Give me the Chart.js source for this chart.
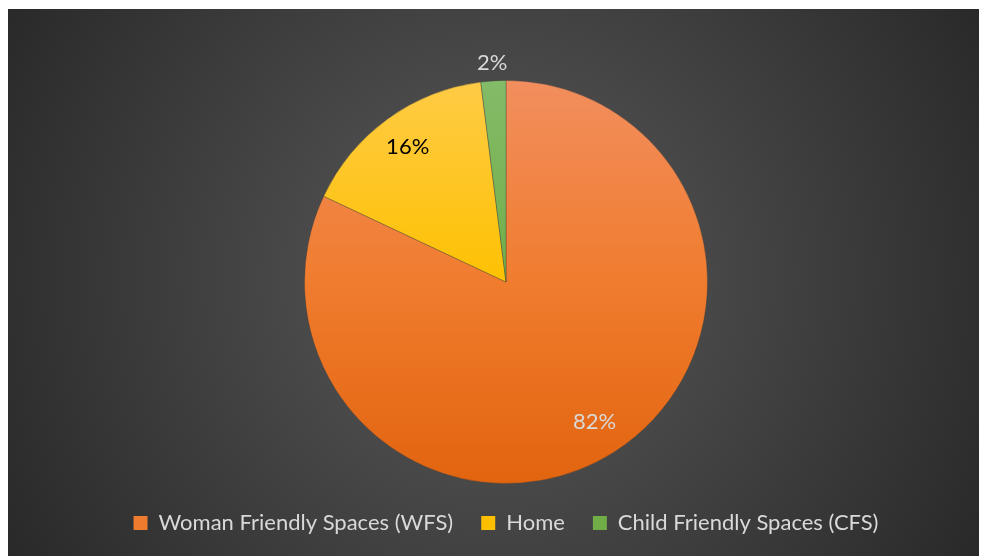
<!DOCTYPE html>
<html lang="en">
<head>
  <meta charset="UTF-8" />
  <title>Where services were received</title>
  <style>
    * {
      box-sizing: border-box;
    }
    body {
      margin: 0;
      background: #fff;
      width: 981px;
      height: 556px;
      overflow: hidden;
      position: relative;
    }
    .chart-frame {
      position: absolute;
      left: 8px;
      top: 9px;
      width: 971px;
      height: 547px;
      background: radial-gradient(circle farthest-corner at 50% 49%, #5a5a5a 0%, #292929 100%);
    }
  </style>
</head>
<body>

  <div class="chart-frame">
    <canvas id="pieChart" role="img" aria-label="Pie chart of service locations"></canvas>
  </div>

  <script src="https://cdn.jsdelivr.net/npm/chart.js"></script>
  <script>
    const categories = ['Woman Friendly Spaces (WFS)', 'Home', 'Child Friendly Spaces (CFS)'];
    const shares = [82, 16, 2];

    // flat colour for the legend, gradient stops for the slices (top -> bottom)
    const sliceColors = ['#EF7B2E', '#FDC000', '#71AD47'];
    const sliceStops = [
      ['#F28E5E', '#F07C2E', '#E2640F'],
      ['#FFCB46', '#FDC102', '#E2A900'],
      ['#83BB68', '#72AE49', '#5F9B3A']
    ];
    const labelColors = ['#d9d9d9', '#000000', '#d9d9d9'];
    // how far out each percentage sits, as a share of the radius
    const labelRadius = [0.82, 0.83, 1.09];

    const FONT = 'Lato, "Open Sans", sans-serif';

    function sliceFill(context) {
      const i = context.dataIndex;
      const area = context.chart.chartArea;
      if (!area) return sliceColors[i];
      const g = context.chart.ctx.createLinearGradient(0, area.top, 0, area.bottom);
      g.addColorStop(0, sliceStops[i][0]);
      g.addColorStop(0.5, sliceStops[i][1]);
      g.addColorStop(1, sliceStops[i][2]);
      return g;
    }

    const percentLabels = {
      id: 'percentLabels',
      afterDatasetsDraw(chart) {
        const ctx = chart.ctx;
        const meta = chart.getDatasetMeta(0);
        ctx.save();
        ctx.font = '22px ' + FONT;
        ctx.textAlign = 'center';
        ctx.textBaseline = 'middle';
        meta.data.forEach((arc, i) => {
          const { x, y, startAngle, endAngle, outerRadius } = arc.getProps(['x', 'y', 'startAngle', 'endAngle', 'outerRadius'], true);
          const mid = (startAngle + endAngle) / 2;
          const r = outerRadius * labelRadius[i];
          ctx.fillStyle = labelColors[i];
          ctx.fillText(shares[i] + '%', x + Math.cos(mid) * r, y + Math.sin(mid) * r);
        });
        ctx.restore();
      }
    };

    new Chart(document.getElementById('pieChart'), {
      type: 'pie',
      data: {
        labels: categories,
        datasets: [{
          data: shares,
          backgroundColor: sliceFill,
          borderColor: 'rgba(60,60,60,0.35)',
          borderWidth: 1
        }]
      },
      options: {
        responsive: true,
        maintainAspectRatio: false,
        animation: false,
        layout: {
          padding: { top: 71, bottom: 12, left: 25, right: 0 }
        },
        plugins: {
          tooltip: { enabled: false },
          legend: {
            position: 'bottom',
            labels: {
              color: '#d9d9d9',
              boxWidth: 14,
              boxHeight: 14,
              padding: 28,
              font: { family: FONT, size: 22 },
              generateLabels(chart) {
                return categories.map((text, i) => ({
                  text,
                  fillStyle: sliceColors[i],
                  strokeStyle: sliceColors[i],
                  lineWidth: 0,
                  fontColor: '#d9d9d9',
                  hidden: false,
                  index: i
                }));
              }
            }
          }
        }
      },
      plugins: [percentLabels]
    });
  </script>
</body>
</html>
